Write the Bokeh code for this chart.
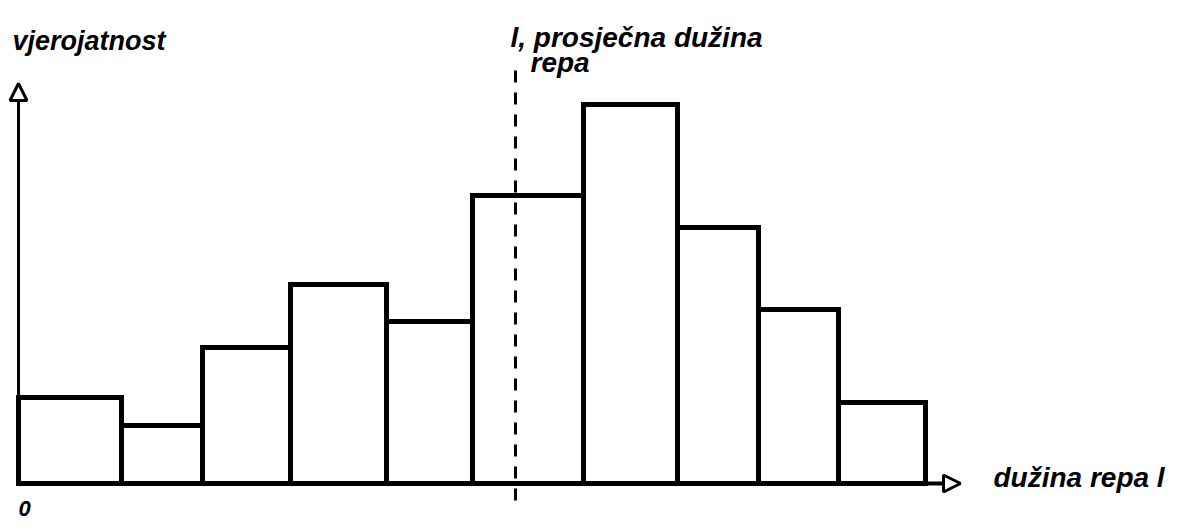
from bokeh.plotting import figure
from bokeh.models import Range1d, Arrow, NormalHead, ColumnDataSource
from bokeh.core.properties import value
from bokeh.embed import file_html
from bokeh.resources import INLINE

# bin edges of tail length (arbitrary units) and probabilities (arbitrary units)
edges = [0, 10.3, 18.4, 27.2, 36.8, 45.4, 56.5, 65.9, 74.0, 82.0, 90.7]
probs = [8.6, 5.8, 13.6, 19.9, 16.2, 28.8, 37.9, 25.6, 17.4, 8.1]
mean_len = 49.7
y_label = "vjerojatnost"
x_label = "dužina repa l"
mean_label = ["l, prosječna dužina", "repa"]
origin_label = "0"

p = figure(width=1175, height=526, output_backend="svg", toolbar_location=None,
           x_range=Range1d(-1.8, 115.7), y_range=Range1d(-4.3, 48.3),
           min_border=0)
p.axis.visible = False
p.grid.visible = False
p.outline_line_color = None
p.background_fill_color = "white"

src = ColumnDataSource(dict(left=edges[:-1], right=edges[1:],
                            top=probs, bottom=[0] * len(probs)))
p.quad(left="left", right="right", top="top", bottom="bottom", source=src,
       fill_color="white", line_color="black", line_width=5, line_join="miter")

# axes with open arrowheads
p.add_layout(Arrow(x_start=0, y_start=0, x_end=0, y_end=40.0,
                   line_width=3, line_color="black",
                   end=NormalHead(size=17, fill_color="white", line_color="black", line_width=3)))
p.add_layout(Arrow(x_start=0, y_start=0, x_end=94.2, y_end=0,
                   line_width=4, line_color="black",
                   end=NormalHead(size=17, fill_color="white", line_color="black", line_width=3)))

# mean line
p.line([mean_len, mean_len], [-1.7, 41.8], line_color="black", line_width=3, line_dash="12 10")

font = value("Liberation Sans")
p.text(x=[-0.6], y=[44.3], text=[y_label], text_font=font, text_font_style="bold italic",
       text_font_size="27px", text_baseline="alphabetic", text_color="black")
p.text(x=[49.2, 51.2], y=[44.6, 42.1], text=mean_label, text_font=font,
       text_font_style="bold italic", text_font_size="28px",
       text_baseline="alphabetic", text_color="black")
p.text(x=[97.5], y=[0.6], text=[x_label], text_font=font, text_font_style="bold italic",
       text_font_size="28px", text_baseline="alphabetic", text_color="black")
p.text(x=[0], y=[-2.5], text=[origin_label], text_font=font, text_font_style="bold italic",
       text_font_size="22px", text_baseline="middle", text_color="black")

open("out.html", "w").write(file_html(p, INLINE))
